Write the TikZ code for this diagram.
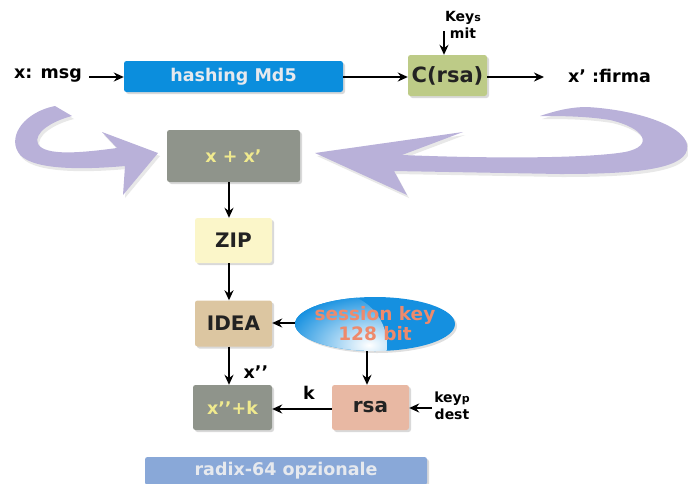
\documentclass[tikz,border=0pt]{standalone}
\usepackage{fontspec}
\setmainfont{DejaVu Sans}
\usetikzlibrary{shapes.geometric,shadows,arrows.meta}

\definecolor{hashblue}{HTML}{0B8EDD}
\definecolor{rsagreen}{HTML}{BDCB87}
\definecolor{boxgrey}{HTML}{8F948B}
\definecolor{zipyellow}{HTML}{FBF6C9}
\definecolor{ideatan}{HTML}{DCC6A1}
\definecolor{rsapink}{HTML}{E8B8A3}
\definecolor{radixblue}{HTML}{89A8D8}
\definecolor{loopviolet}{HTML}{B9B1D9}
\definecolor{keyblue}{HTML}{1590E0}
\definecolor{keysalmon}{HTML}{EE8A6C}
\definecolor{paletext}{HTML}{E6E9EE}
\definecolor{yellowtext}{HTML}{F0EA8E}
\definecolor{darktext}{HTML}{222222}

\begin{document}
\begin{tikzpicture}[x=1pt, y=-1pt,
  font=\bfseries\fontsize{17.5}{19}\selectfont,
  box/.style={rounded corners=2.5pt, inner sep=0pt, align=center,
    drop shadow={opacity=0.3, shadow xshift=2pt, shadow yshift=-2pt}},
  bigtext/.style={font=\bfseries\fontsize{20}{22}\selectfont, text=darktext},
  conn/.style={-{Stealth[length=10pt,width=9pt]}, line width=2pt},
  lbl/.style={inner sep=0pt, align=center},
  small/.style={font=\bfseries\fontsize{14}{17}\selectfont},
  loop/.style={fill=loopviolet,
    drop shadow={opacity=0.18, shadow xshift=2pt, shadow yshift=-3pt}}
]
\useasboundingbox (0,0) rectangle (688,483);
\clip (0,0) rectangle (688,483);

% the two large circulating arrows
\path[loop] (55,106) .. controls (25,112) and (8,135) .. (18,152)
  .. controls (28,170) and (80,170) .. (125,166)
  -- (123,195) -- (158,153) -- (102,132) -- (117,148)
  .. controls (80,153) and (45,156) .. (38,144)
  .. controls (33,133) and (52,121) .. (72,116) -- cycle;

\path[loop] (540,116) .. controls (555,111) and (570,107) .. (587,107)
  .. controls (640,110) and (692,128) .. (687,150)
  .. controls (682,170) and (630,174) .. (560,174)
  -- (394,171) -- (407,195) -- (315,153) -- (463,132) -- (402,155)
  .. controls (500,159) and (590,158) .. (625,152)
  .. controls (655,146) and (645,128) .. (610,120)
  .. controls (585,116) and (560,116) .. (540,116) -- cycle;

% processing blocks
\node[box, fill=hashblue, text=paletext, minimum width=219pt, minimum height=31pt]
  (hash) at (233.5,76.5) {hashing Md5};
\node[box, fill=rsagreen, bigtext, font=\bfseries\fontsize{21}{22}\selectfont,
  minimum width=79pt, minimum height=41pt]
  (crsa) at (447.5,75.5) {C(rsa)};
\node[box, fill=boxgrey, text=yellowtext, minimum width=133pt, minimum height=52pt]
  (sum) at (233.5,156) {x + x’};
\node[box, fill=zipyellow, bigtext, minimum width=77pt, minimum height=45pt]
  (zip) at (233.5,240.5) {ZIP};
\node[box, fill=ideatan, bigtext, minimum width=77pt, minimum height=46pt]
  (idea) at (233.5,323.5) {IDEA};
\node[box, fill=boxgrey, text=yellowtext, minimum width=79pt, minimum height=45pt]
  (out) at (232.5,407.5) {x’’+k};
\node[box, fill=rsapink, bigtext, minimum width=77pt, minimum height=45pt]
  (rsa) at (370.5,407.5) {rsa};
\node[box, fill=radixblue, text=paletext, minimum width=282pt, minimum height=28pt]
  (radix) at (286,471) {radix-64 opzionale};

% session key
\node[ellipse, inner xsep=-4pt, inner ysep=-1pt, minimum width=160pt, minimum height=54pt,
  fill=keyblue, text=keysalmon, align=center,
  font=\bfseries\fontsize{18.5}{20}\selectfont,
  drop shadow={opacity=0.25, shadow xshift=2pt, shadow yshift=-2pt},
  path picture={\shade[inner color=white, outer color=keyblue]
    ([xshift=40pt, yshift=6pt]path picture bounding box.south west) circle (52pt);}]
  (skey) at (375,324) {session key\\128 bit};

% free labels
\node[lbl, anchor=west] (msg) at (14,75) {x: msg};
\node[lbl, anchor=west] (firma) at (568,76) {x’ :firma};
\node[lbl, small] (keys) at (463,25) {Key{\fontsize{11}{11}\selectfont s}\\ mit};
\node[lbl, small] (keyp) at (452,406) {key{\fontsize{11}{11}\selectfont p}\\dest};
\node[lbl] (klab) at (309,393) {k};
\node[lbl] (xlab) at (256,372) {x’’};

\coordinate (msgend) at (89,77);
\coordinate (firmaend) at (544,77);
\coordinate (keystop) at (444,31);
\coordinate (keyptip) at (432,408);

% connectors
\draw[conn] (msgend) -- (hash.west |- msgend);
\draw[conn] (hash.east |- 0,77) -- (crsa.west |- 0,77);
\draw[conn] (crsa.east |- msgend) -- (firmaend);
\draw[conn] (keystop) -- (keystop |- crsa.north);
\draw[conn] (sum.south -| 229,0) -- (zip.north -| 229,0);
\draw[conn] (zip.south -| 229,0) -- (idea.north -| 229,0);
\draw[conn] (skey.west |- 0,323) -- (idea.east |- 0,323);
\draw[conn] (idea.south -| 229,0) -- (out.north -| 229,0);
\draw[conn] (skey.south -| 367,0) -- (rsa.north -| 367,0);
\draw[conn] (rsa.west |- 0,409) -- (out.east |- 0,409);
\draw[conn] (keyptip) -- (keyptip -| rsa.east);
\end{tikzpicture}
\end{document}
